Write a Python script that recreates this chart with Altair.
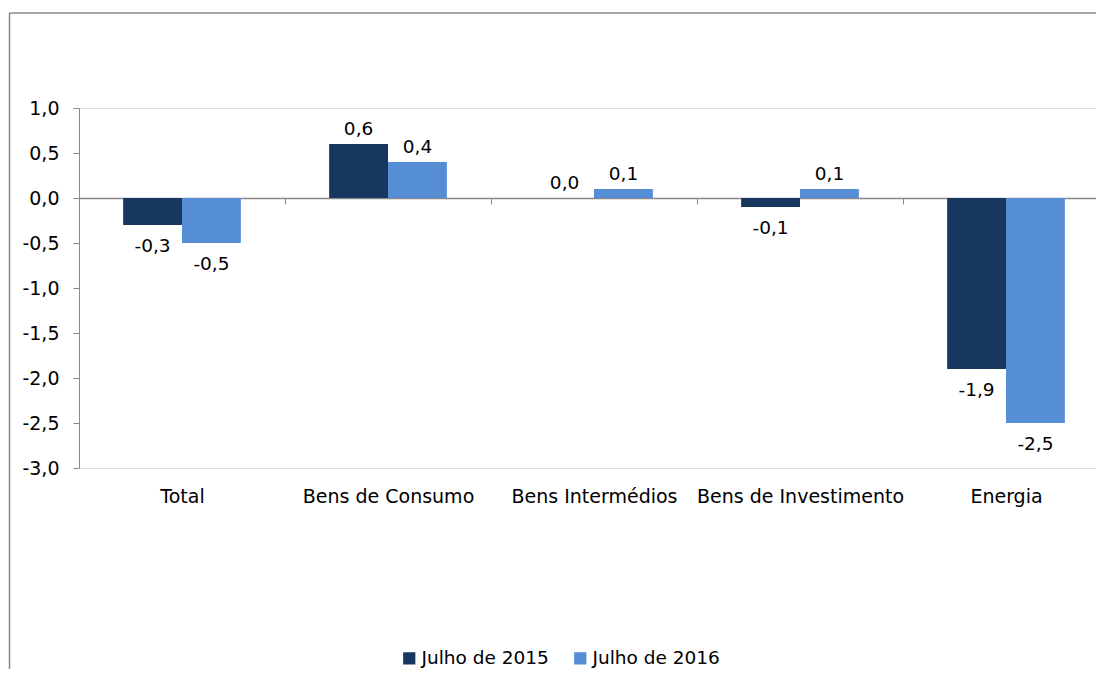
import altair as alt
import pandas as pd

categories = ["Total", "Bens de Consumo", "Bens Intermédios", "Bens de Investimento", "Energia"]
series_names = ["Julho de 2015", "Julho de 2016"]
values_2015 = [-0.3, 0.6, 0.0, -0.1, -1.9]
values_2016 = [-0.5, 0.4, 0.1, 0.1, -2.5]
y_ticks = [1.0, 0.5, 0.0, -0.5, -1.0, -1.5, -2.0, -2.5, -3.0]

rows = []
for c, a, b in zip(categories, values_2015, values_2016):
    rows.append({"cat": c, "serie": series_names[0], "valor": a})
    rows.append({"cat": c, "serie": series_names[1], "valor": b})
df = pd.DataFrame(rows)

FONT = "DejaVu Sans"
GRAY = "#898989"
colors = ["#17375E", "#558ED5"]

W = 1017
H = 360
FMT = "replace(replace(format({v}, '.1f'), '.', ','), '\u2212', '-')"

xscale = alt.Scale(domain=categories, range=[0, 1030], paddingInner=0, paddingOuter=0)
yscale = alt.Scale(domain=[-3, 1], nice=False, zero=False)
offscale = alt.Scale(domain=series_names, paddingInner=0, paddingOuter=0.75)

base = alt.Chart(df).transform_calculate(label=FMT.format(v="datum.valor"))

bars = base.mark_bar(stroke=None).encode(
    x=alt.X("cat:N", scale=xscale, sort=categories, title=None,
            axis=alt.Axis(orient="bottom", offset=-270, domainColor=GRAY, domainWidth=1.5,
                          tickColor=GRAY, tickSize=6, tickBand="extent", labelAngle=0,
                          labelFont=FONT, labelFontSize=19, labelColor="black", labelLimit=0,
                          labelPadding=292, labelBaseline="middle")),
    xOffset=alt.XOffset("serie:N", scale=offscale, sort=series_names),
    y=alt.Y("valor:Q", scale=yscale, title=None,
            axis=alt.Axis(values=y_ticks, grid=False, domainColor=GRAY, tickColor=GRAY,
                          tickSize=6, labelFont=FONT, labelFontSize=19, labelColor="black",
                          labelPadding=14, labelExpr=FMT.format(v="datum.value"))),
    color=alt.Color("serie:N", scale=alt.Scale(domain=series_names, range=colors), title=None,
                    legend=alt.Legend(orient="none", legendX=321, legendY=541, direction="horizontal",
                                      symbolType="square", symbolSize=150, symbolStrokeWidth=0,
                                      labelFont=FONT, labelFontSize=18.5, labelColor="black",
                                      labelOffset=3, columnPadding=22, labelLimit=0)),
)

pos_labels = base.transform_filter("datum.valor >= 0").mark_text(
    font=FONT, fontSize=18.5, color="black", baseline="alphabetic", dy=-9
).encode(
    x=alt.X("cat:N", scale=xscale, sort=categories),
    xOffset=alt.XOffset("serie:N", scale=offscale, sort=series_names),
    y=alt.Y("valor:Q", scale=yscale),
    text="label:N",
)

neg_labels = base.transform_filter("datum.valor < 0").mark_text(
    font=FONT, fontSize=18.5, color="black", baseline="top", dy=12
).encode(
    x=alt.X("cat:N", scale=xscale, sort=categories),
    xOffset=alt.XOffset("serie:N", scale=offscale, sort=series_names),
    y=alt.Y("valor:Q", scale=yscale),
    text="label:N",
)

border_left = alt.Chart(pd.DataFrame({"a": [0]})).mark_rule(color=GRAY, strokeWidth=1.5).encode(
    x=alt.value(-69.5), y=alt.value(-95), y2=alt.value(620)
)
border_top = alt.Chart(pd.DataFrame({"a": [0]})).mark_rule(color=GRAY, strokeWidth=1.5).encode(
    x=alt.value(-69.5), x2=alt.value(1100), y=alt.value(-95)
)

chart = alt.layer(border_left, border_top, bars, pos_labels, neg_labels).properties(
    width=W, height=H,
    autosize=alt.AutoSizeParams(type="none"),
    padding={"left": 71, "top": 100, "right": 0, "bottom": 201},
).configure_view(stroke=None).configure(background="white")

chart.save("out.html", embed_options={"renderer": "svg", "actions": False})
